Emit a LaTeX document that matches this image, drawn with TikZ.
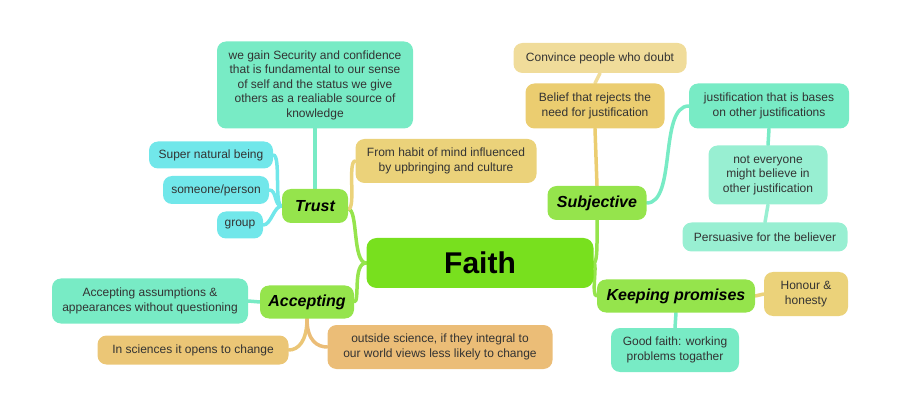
\documentclass[tikz,border=0pt]{standalone}
\usepackage{xcolor}
\usepackage{tikz}
\usepackage{fontspec}
\setmainfont{Liberation Sans}
\usetikzlibrary{positioning, backgrounds}
\definecolor{FaithMain}{HTML}{78E01E}
\definecolor{FaithTopic}{HTML}{95E44C}
\definecolor{FaithTeal}{HTML}{78EBC5}
\definecolor{FaithMint}{HTML}{98EFD2}
\definecolor{FaithCyan}{HTML}{71E7EA}
\definecolor{FaithSand}{HTML}{EBD27A}
\definecolor{FaithGold}{HTML}{EBCD70}
\definecolor{FaithPale}{HTML}{F0DC9A}
\definecolor{FaithOchre}{HTML}{EBC676}
\definecolor{FaithPeach}{HTML}{EBBD77}
\definecolor{FaithText}{HTML}{333333}

\begin{document}
\begin{tikzpicture}[x=1pt, y=-1pt,
    core/.style={
      rectangle, rounded corners=10pt, fill=FaithMain, inner sep=0pt,
      minimum width=227pt, minimum height=50pt, font=\fontsize{30}{32}\selectfont\bfseries
    },
    topic/.style={
      rectangle, rounded corners=9pt, fill=FaithTopic, inner sep=0pt,
      minimum height=34pt, font=\fontsize{16}{18}\selectfont\bfseries\itshape
    },
    leaf/.style={
      rectangle, rounded corners=9pt, fill=#1, inner sep=0pt, align=center,
      text=FaithText, font=\fontsize{12}{14.5}\selectfont
    },
    link/.style={line width=3.5pt, color=#1, line cap=round}
  ]
    \useasboundingbox (0,0) rectangle (900,414);

    \node[core] (faith) at (480,263) {Faith};
    \node[topic, minimum width=66pt] (trust) at (315,206) {Trust};
    \node[topic, minimum width=99pt] (subj) at (597,203) {Subjective};
    \node[topic, minimum width=94pt, minimum height=33pt] (acc) at (307,302) {Accepting};
    \node[topic, minimum width=158pt, minimum height=33pt] (keep) at (676,296) {Keeping promises};

    \node[leaf=FaithTeal, minimum width=196pt, minimum height=87pt] (secure) at (315,85)
      {we gain Security and confidence\\that is fundamental to our sense\\of self and the status we give\\others as a realiable source of\\knowledge};
    \node[leaf=FaithCyan, minimum width=124pt, minimum height=27pt] (super) at (211,155) {Super natural being};
    \node[leaf=FaithCyan, minimum width=106pt, minimum height=28pt] (person) at (216,190) {someone/person};
    \node[leaf=FaithCyan, minimum width=46pt, minimum height=27pt] (group) at (240,225) {group};
    \node[leaf=FaithSand, minimum width=181pt, minimum height=44pt] (habit) at (446,161)
      {From habit of mind influenced\\by upbringing and culture};

    \node[leaf=FaithPale, minimum width=173pt, minimum height=30pt] (convince) at (600,58) {Convince people who doubt};
    \node[leaf=FaithGold, minimum width=139pt, minimum height=45pt] (belief) at (595,106)
      {Belief that rejects the\\need for justification};
    \node[leaf=FaithTeal, minimum width=160pt, minimum height=45pt] (bases) at (769,106)
      {justification that is bases\\on other justifications};
    \node[leaf=FaithMint, minimum width=119pt, minimum height=59pt] (noteveryone) at (768,175)
      {not everyone\\might believe in\\other justification};
    \node[leaf=FaithMint, minimum width=165pt, minimum height=29pt] (persuasive) at (765,237) {Persuasive for the believer};

    \node[leaf=FaithTeal, minimum width=196pt, minimum height=45pt] (assume) at (150,301)
      {Accepting assumptions \&\\appearances without questioning};
    \node[leaf=FaithOchre, minimum width=191pt, minimum height=29pt] (sciences) at (193,350) {In sciences it opens to change};
    \node[leaf=FaithPeach, minimum width=225pt, minimum height=44pt] (outside) at (440,347)
      {outside science, if they integral to\\our world views less likely to change};

    \node[leaf=FaithSand, minimum width=84pt, minimum height=44pt] (honour) at (806,294) {Honour \&\\honesty};
    \node[leaf=FaithTeal, minimum width=128pt, minimum height=44pt] (good) at (675,350)
      {Good faith: working\\problems togather};

    \begin{scope}[on background layer]
      \draw[link=FaithTopic] (faith.west) .. controls +(-14,0) and +(10,0) .. ([yshift=-3pt]trust.east);
      \draw[link=FaithTopic] (faith.west) .. controls +(-14,0) and +(6,0) .. (acc.east);
      \draw[link=FaithTopic] (faith.east) .. controls +(4,0) and +(0,20) .. (subj.south);
      \draw[link=FaithTopic] (faith.east) .. controls +(4,0) and +(-6,0) .. (keep.west);

      \draw[link=FaithTeal] (trust.north) -- (secure.south);
      \draw[link=FaithCyan] (trust.west) .. controls +(-8,0) and +(8,0) .. (super.east);
      \draw[link=FaithCyan] (trust.west) .. controls +(-8,0) and +(8,0) .. (person.east);
      \draw[link=FaithCyan] (trust.west) .. controls +(-8,0) and +(8,0) .. (group.east);
      \draw[link=FaithSand] ([yshift=-3pt]trust.east) .. controls +(8,0) and +(-8,0) .. (habit.west);

      \draw[link=FaithGold] (subj.north) -- (belief.south);
      \draw[link=FaithPale] (belief.north) -- (convince.south);
      \draw[link=FaithTeal] (subj.east) .. controls +(30,0) and +(-30,0) .. (bases.west);
      \draw[link=FaithTeal] (bases.south) -- (noteveryone.north);
      \draw[link=FaithMint] (noteveryone.south) -- (persuasive.north);

      \draw[link=FaithTeal] (acc.west) -- (assume.east);
      \draw[link=FaithOchre] (acc.south) .. controls +(0,22) and +(10,0) .. (sciences.east);
      \draw[link=FaithPeach] (acc.south) .. controls +(0,22) and +(-10,0) .. (outside.west);

      \draw[link=FaithSand] (keep.east) -- (honour.west);
      \draw[link=FaithTeal] (keep.south) -- (good.north);
    \end{scope}
  \end{tikzpicture}
\end{document}
